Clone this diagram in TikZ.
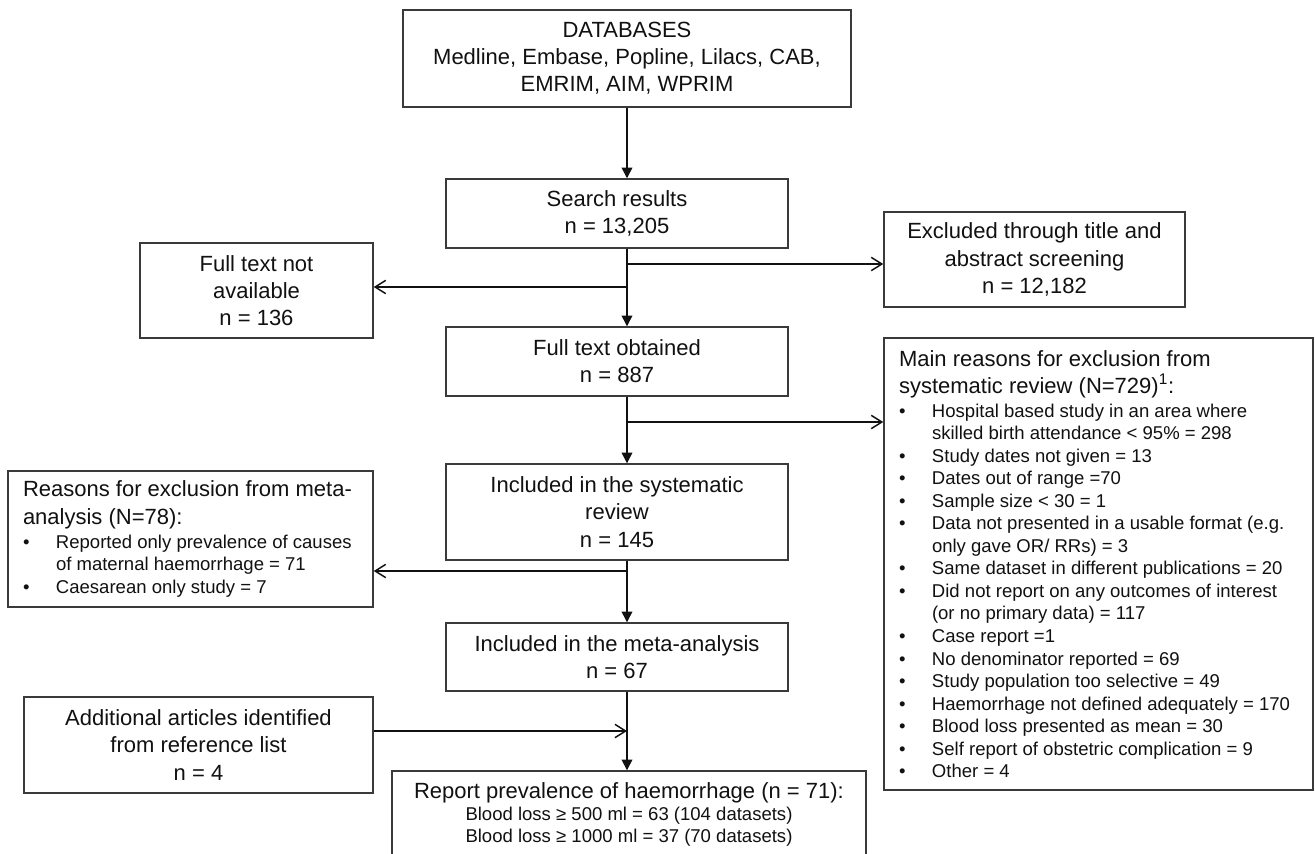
\documentclass[tikz,border=0pt]{standalone}
\usepackage{fontspec}
\setmainfont{Liberation Sans}
\usetikzlibrary{arrows.meta}
\definecolor{boxline}{HTML}{3A3A3A}
\definecolor{ink}{HTML}{111111}
\newcommand\hfont{\fontsize{16.5}{20.4}\selectfont}
\newcommand\sfont{\fontsize{13.9}{16.9}\selectfont}
\newcommand\rfont{\fontsize{13.9}{16.5}\selectfont}
\newcommand\bul{\par\noindent\hangindent=24.75pt\hangafter=1\makebox[24.75pt][l]{\textbullet}}
\tikzset{
  box/.style={draw=boxline, line width=1.1pt, inner sep=0pt, text=ink, font=\hfont, align=center},
  down/.style={draw=ink, line width=1.1pt, -{Triangle[length=8pt,width=8pt]}},
  side/.style={draw=ink, line width=1.1pt, -{Straight Barb[length=8pt,width=10pt]}},
}
\begin{document}
\begin{tikzpicture}[x=0.75pt,y=-0.75pt]
\useasboundingbox (0,0) rectangle (1315,854);
\fill[white] (0,0) rectangle (1315,854);
\clip (0,0) rectangle (1315,854);

\node[box, minimum width=448*0.75pt, minimum height=97*0.75pt] (db) at (627,58.5)
  {DATABASES\\Medline, Embase, Popline, Lilacs, CAB,\\EMRIM, AIM, WPRIM};
\node[box, minimum width=342*0.75pt, minimum height=69*0.75pt] (search) at (617,213.5)
  {Search results\\n = 13,205};
\node[box, minimum width=233*0.75pt, minimum height=95*0.75pt] (ftna) at (256.5,290.5)
  {Full text not\\available\\n = 136};
\node[box, minimum width=301*0.75pt, minimum height=95*0.75pt] (excl) at (1034.5,259.5)
  {Excluded through title and\\abstract screening\\n = 12,182};
\node[box, minimum width=342*0.75pt, minimum height=69*0.75pt] (fto) at (617,361.5)
  {Full text obtained\\n = 887};
\node[box, minimum width=429*0.75pt, minimum height=452*0.75pt, align=left] (main) at (1098.5,564)
  {\begin{minipage}{299.25pt}\raggedright
   {\hfont Main reasons for exclusion from\\ systematic review (N=729)\textsuperscript{1}:\par}
   \vspace{1pt}\sfont
   \bul Hospital based study in an area where\newline skilled birth attendance < 95\% = 298
   \bul Study dates not given = 13
   \bul Dates out of range =70
   \bul Sample size < 30 = 1
   \bul Data not presented in a usable format (e.g.\newline only gave OR/ RRs) = 3
   \bul Same dataset in different publications = 20
   \bul Did not report on any outcomes of interest\newline (or no primary data) = 117
   \bul Case report =1
   \bul No denominator reported = 69
   \bul Study population too selective = 49
   \bul Haemorrhage not defined adequately = 170
   \bul Blood loss presented as mean = 30
   \bul Self report of obstetric complication = 9
   \bul Other = 4\par
   \end{minipage}};
\node[box, minimum width=342*0.75pt, minimum height=96*0.75pt] (sys) at (617,512)
  {Included in the systematic\\review\\n = 145};
\node[box, minimum width=365*0.75pt, minimum height=136*0.75pt, align=left] (metaex) at (190.5,539)
  {\begin{minipage}{251.25pt}\raggedright
   {\hfont Reasons for exclusion from meta-\\ analysis (N=78):\par}
   \vspace{1pt}\sfont
   \bul Reported only prevalence of causes\newline of maternal haemorrhage = 71
   \bul Caesarean only study = 7\par
   \end{minipage}};
\node[box, minimum width=342*0.75pt, minimum height=68*0.75pt] (meta) at (617,657)
  {Included in the meta-analysis\\n = 67};
\node[box, minimum width=349*0.75pt, minimum height=96*0.75pt] (add) at (198.5,745)
  {Additional articles identified\\from reference list\\n = 4};
\node[box, minimum width=474*0.75pt, minimum height=86*0.75pt] (report) at (629,814)
  {\begin{minipage}{340pt}\centering
   {\hfont Report prevalence of haemorrhage (n = 71):\par}
   \rfont Blood loss ≥ 500 ml = 63 (104 datasets)\\
   Blood loss ≥ 1000 ml = 37 (70 datasets)\par
   \end{minipage}};

\coordinate (j1) at (627,264);
\coordinate (j2) at (627,287);
\coordinate (j3) at (627,422);
\coordinate (j4) at (627,571);
\coordinate (j5) at (627,731);

\draw[down] (db.south) -- (db.south |- search.north);
\draw[down] (search.south -| db.south) -- (fto.north -| db.south);
\draw[down] (fto.south -| db.south) -- (sys.north -| db.south);
\draw[down] (sys.south -| db.south) -- (meta.north -| db.south);
\draw[down] (meta.south -| db.south) -- (report.north -| db.south);

\draw[side] (j1) -- (j1 -| excl.west);
\draw[side] (j2) -- (j2 -| ftna.east);
\draw[side] (j3) -- (j3 -| main.west);
\draw[side] (j4) -- (j4 -| metaex.east);
\draw[side] (j5 -| add.east) -- (j5);
\end{tikzpicture}
\end{document}
